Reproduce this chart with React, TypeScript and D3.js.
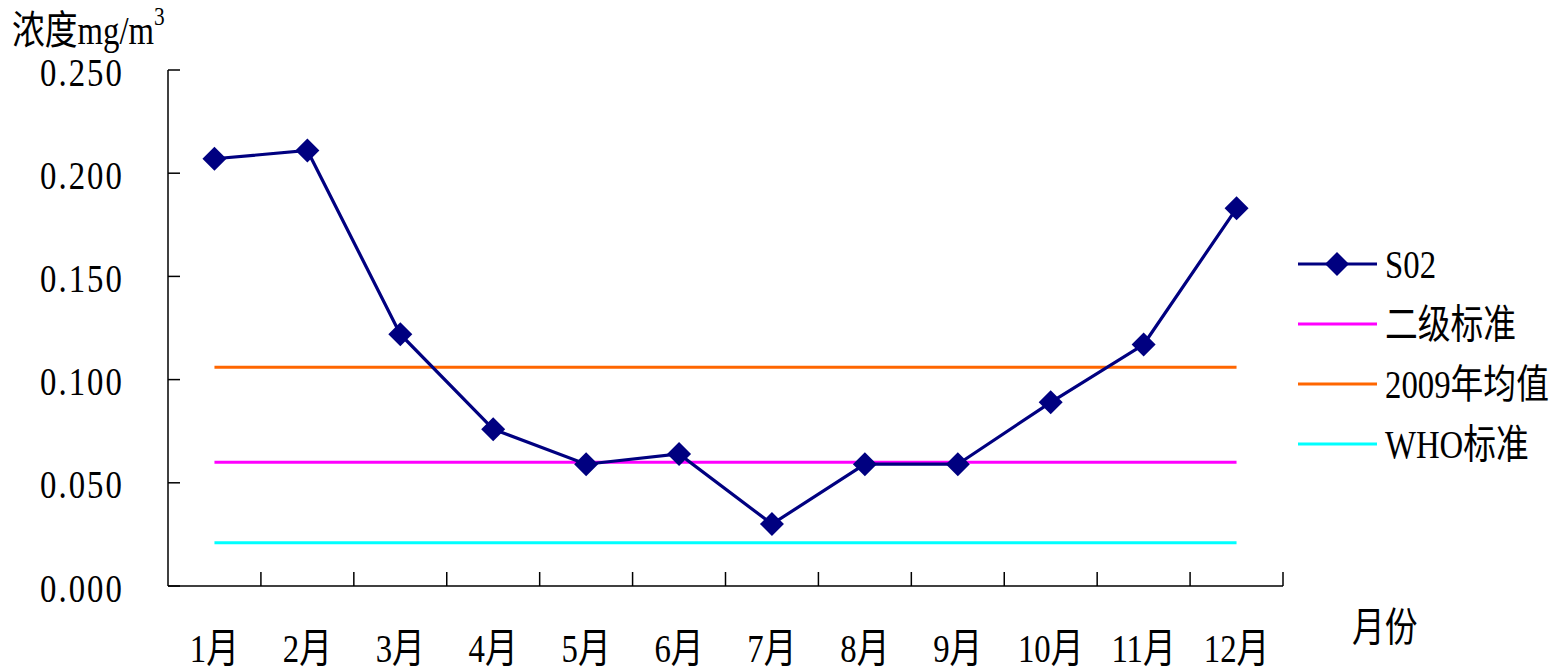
import React from "react";
import * as d3 from "d3";

const months = ["1月", "2月", "3月", "4月", "5月", "6月", "7月", "8月", "9月", "10月", "11月", "12月"];
const so2 = [0.207, 0.211, 0.122, 0.076, 0.059, 0.064, 0.03, 0.059, 0.059, 0.089, 0.117, 0.183];
const grade2Standard = 0.06;
const mean2009 = 0.106;
const whoStandard = 0.021;
const yTicks = [0, 0.05, 0.1, 0.15, 0.2, 0.25];

const FONT = "'Liberation Serif', 'Noto Sans CJK SC', serif";
const SX = 0.82;

const W = 1560;
const H = 670;
const left = 168;
const right = 1283;
const top = 70;
const bottom = 586;

function T({ x, y, size, anchor = "start", spacing = 0, children }: any) {
  return (
    <text
      transform={`translate(${x},${y}) scale(${SX},1)`}
      fontFamily={FONT}
      fontSize={size}
      textAnchor={anchor}
      dominantBaseline="central"
      letterSpacing={spacing}
      fill="#000"
    >
      {children}
    </text>
  );
}

export default function App() {
  const x = d3.scaleBand<string>().domain(months).range([left, right]).padding(0);
  const cx = (m: string) => (x(m) as number) + x.bandwidth() / 2;
  const y = d3.scaleLinear().domain([0, 0.25]).range([bottom, top]);

  const line = d3
    .line<number>()
    .x((_, i) => cx(months[i]))
    .y((d) => y(d));

  const x0 = cx(months[0]);
  const x1 = cx(months[months.length - 1]);
  const diamond = (px: number, py: number, r: number) =>
    `M${px},${py - r}L${px + r},${py}L${px},${py + r}L${px - r},${py}Z`;

  const refLines = [
    { v: grade2Standard, color: "#ff00ff" },
    { v: mean2009, color: "#ff6600" },
    { v: whoStandard, color: "#00ffff" },
  ];

  const legend = [
    { label: "S02", color: "#000080", marker: true },
    { label: "二级标准", color: "#ff00ff", marker: false },
    { label: "2009年均值", color: "#ff6600", marker: false },
    { label: "WHO标准", color: "#00ffff", marker: false },
  ];

  const boundaries = months.map((m) => (x(m) as number) + x.bandwidth()).slice(0, -1);
  boundaries.push(right);

  return (
    <svg width={W} height={H} style={{ position: "absolute", left: 0, top: 0 }}>
      <rect width={W} height={H} fill="#fff" />

      {/* axes */}
      <line x1={left} y1={top} x2={left} y2={bottom} stroke="#000" strokeWidth={1.5} />
      <line x1={left} y1={bottom} x2={right} y2={bottom} stroke="#000" strokeWidth={1.5} />
      {yTicks.map((t) => (
        <line key={t} x1={left} x2={left + 12} y1={y(t)} y2={y(t)} stroke="#000" strokeWidth={1.5} />
      ))}
      {boundaries.map((b, i) => (
        <line key={i} x1={b} x2={b} y1={bottom} y2={bottom - 14} stroke="#000" strokeWidth={1.5} />
      ))}

      {/* y tick labels */}
      {yTicks.map((t) => (
        <T key={t} x={124} y={y(t) + 2} size={40} anchor="end" spacing={2.5}>
          {d3.format(".3f")(t)}
        </T>
      ))}

      {/* x labels */}
      {months.map((m) => (
        <T key={m} x={cx(m)} y={648} size={40} anchor="middle">
          {m}
        </T>
      ))}

      {/* reference lines */}
      {refLines.map((r) => (
        <line key={r.color} x1={x0} x2={x1} y1={y(r.v)} y2={y(r.v)} stroke={r.color} strokeWidth={3} />
      ))}

      {/* SO2 series */}
      <path d={line(so2) || ""} fill="none" stroke="#000080" strokeWidth={3.2} />
      {so2.map((v, i) => (
        <path key={i} d={diamond(cx(months[i]), y(v), 12)} fill="#000080" />
      ))}

      {/* axis titles */}
      <text
        transform={`translate(12,30) scale(${SX},1)`}
        fontFamily={FONT}
        fontSize={40}
        dominantBaseline="central"
      >
        浓度mg/m<tspan fontSize={26} dy={-14}>3</tspan>
      </text>
      <T x={1352} y={627} size={40}>
        月份
      </T>

      {/* legend */}
      {legend.map((l, i) => {
        const ly = 264 + i * 60;
        return (
          <g key={l.label}>
            <line x1={1298} x2={1377} y1={ly} y2={ly} stroke={l.color} strokeWidth={3} />
            {l.marker && <path d={diamond(1337, ly, 12)} fill="#000080" />}
            <T x={1385} y={ly} size={40}>
              {l.label}
            </T>
          </g>
        );
      })}
    </svg>
  );
}
